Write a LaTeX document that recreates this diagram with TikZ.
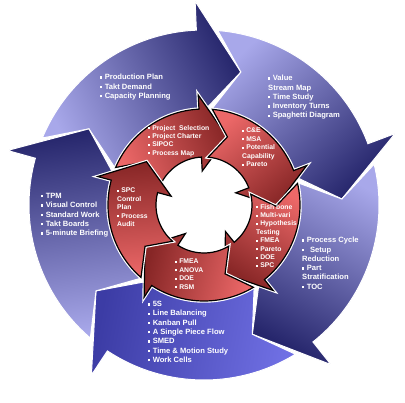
\documentclass[tikz,border=0pt]{standalone}
\usepackage{fontspec}
\setmainfont{Liberation Sans}
\usepackage{xcolor}
\usetikzlibrary{calc}

\definecolor{navy}{RGB}{38,38,108}
\definecolor{lavender}{RGB}{168,168,234}
\definecolor{violet}{RGB}{60,60,165}
\definecolor{brightblue}{RGB}{112,112,228}
\definecolor{darkred}{RGB}{135,38,38}
\definecolor{lightred}{RGB}{236,104,104}

\newcommand{\sq}{\rule[0.25ex]{0.3em}{0.3em}\hspace{0.3em}}

% outer arrow: #1 tip angle, #2 dark colour, #3 light colour
\newcommand{\bluearrow}[3]{%
  \path[bluebody, top color=#2, bottom color=#3, shading angle=#1-139]
    (#1+83:175) arc[start angle=#1+83, end angle=#1+18, radius=175]
    -- (#1+18:204) -- (#1:138) -- (#1+18:90) -- (#1+18:96)
    arc[start angle=#1+18, end angle=#1+83, radius=96]
    -- (#1+72:138) -- cycle;}

% inner arrow: #1 tip angle
\newcommand{\redarrow}[1]{%
  \path[redbody, shading angle=#1-139]
    (#1+86:96) arc[start angle=#1+86, end angle=#1+22, radius=96]
    -- (#1+22:110) -- (#1:72) -- (#1+22:34) -- (#1+22:48)
    arc[start angle=#1+22, end angle=#1+86, radius=48]
    -- (#1+72:72) -- cycle;}

\begin{document}
\begin{tikzpicture}[
    x=1pt, y=1pt,
    bluebody/.style={draw=white, line width=1pt},
    redbody/.style={top color=darkred, bottom color=lightred, draw=black, line width=1.2pt,
      preaction={draw=white, line width=3.5pt}},
    outtxt/.style={anchor=north west, inner sep=0pt, align=left, text=white,
      font=\fontsize{7.6}{9.3}\selectfont\bfseries},
    intxt/.style={anchor=north west, inner sep=0pt, align=left, text=white,
      font=\fontsize{6.8}{8.4}\selectfont\bfseries}
]
\useasboundingbox (0,0) rectangle (405,-403);

% Outer arrows
\begin{scope}[shift={(204,-205)}]
\bluearrow{74.5}{navy}{lavender}
\bluearrow{2.5}{navy}{lavender}
\bluearrow{-69.5}{navy}{lavender}
\bluearrow{-141.5}{violet}{brightblue}
\bluearrow{146.5}{navy}{lavender}

% Inner arrows
\redarrow{71}
\redarrow{-1}
\redarrow{-73}
\redarrow{-145}
\redarrow{143}
\end{scope}

% Outer labels
\node[outtxt] (plan) at (100,-74) {\sq Production Plan\\\sq Takt Demand\\\sq Capacity Planning};
\node[outtxt] (vsm) at (268,-75) {\sq Value\\Stream Map\\\sq Time Study\\\sq Inventory Turns\\\sq Spaghetti Diagram};
\node[outtxt] (pcycle) at (302,-237) {\sq Process Cycle\\\sq\, Setup\\Reduction\\\sq Part\\Stratification\\\sq TOC};
\node[outtxt] (flow) at (148,-301) {\sq 5S\\\sq Line Balancing\\\sq Kanban Pull\\\sq A Single Piece Flow\\\sq SMED\\\sq Time \& Motion Study\\\sq Work Cells};
\node[outtxt] (tpm) at (41,-193) {\sq TPM\\\sq Visual Control\\\sq Standard Work\\\sq Takt Boards\\\sq 5-minute Briefing};

% Inner labels
\node[intxt] (proj) at (148,-125) {\sq Project\ \ Selection\\\sq Project Charter\\\sq SIPOC\\\sq Process Map};
\node[intxt] (cne) at (242,-128) {\sq C\&E\\\sq MSA\\\sq Potential\\Capability\\\sq Pareto};
\node[intxt] (fish) at (256,-204) {\sq Fish bone\\\sq Multi-vari\\\sq Hypothesis\\Testing\\\sq FMEA\\\sq Pareto\\\sq DOE\\\sq SPC};
\node[intxt] (fmea) at (175,-259) {\sq FMEA\\\sq ANOVA\\\sq DOE\\\sq RSM};
\node[intxt] (spc) at (117,-188) {\sq SPC\\Control\\Plan\\\sq Process\\Audit};

\end{tikzpicture}
\end{document}
